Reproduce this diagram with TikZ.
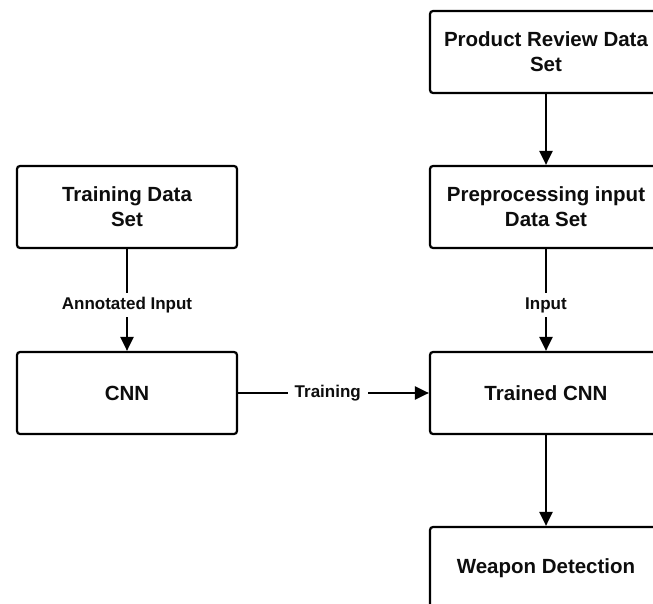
\documentclass[tikz,border=0pt]{standalone}
\usepackage{fontspec}
\setmainfont{Liberation Sans}
\usetikzlibrary{arrows.meta}
\begin{document}
\begin{tikzpicture}[x=1pt,y=-1pt,
  box/.style={draw=black,line width=2.2pt,rounded corners=3pt,fill=white,
    align=center,font=\fontsize{20.5}{25}\selectfont\bfseries,text=black!95,
    minimum height=82pt,inner sep=0pt},
  lbox/.style={box,minimum width=220pt},
  rbox/.style={box,minimum width=232pt},
  conn/.style={line width=2.2pt,-{Triangle[length=14pt,width=13pt]}},
  elabel/.style={fill=white,font=\fontsize{17}{20}\selectfont\bfseries,
    text=black!95,inner xsep=7pt,inner ysep=4pt}]
\useasboundingbox (0,0) rectangle (653,604);
\node[rbox] (prod) at (546,52) {Product Review Data\\Set};
\node[rbox] (prep) at (546,207) {Preprocessing input\\Data Set};
\node[lbox] (train) at (127,207) {Training Data\\Set};
\node[lbox] (cnn) at (127,393) {CNN};
\node[rbox] (tcnn) at (546,393) {Trained CNN};
\node[rbox] (weap) at (546,568) {Weapon Detection};
\draw[conn] (prod) -- (prep);
\draw[conn] (prep) -- node[elabel,pos=0.55] {Input} (tcnn);
\draw[conn] (train) -- node[elabel,pos=0.55] {Annotated Input} (cnn);
\draw[conn] (cnn) -- node[elabel,pos=0.47] {Training} (tcnn);
\draw[conn] (tcnn) -- (weap);
\end{tikzpicture}
\end{document}
